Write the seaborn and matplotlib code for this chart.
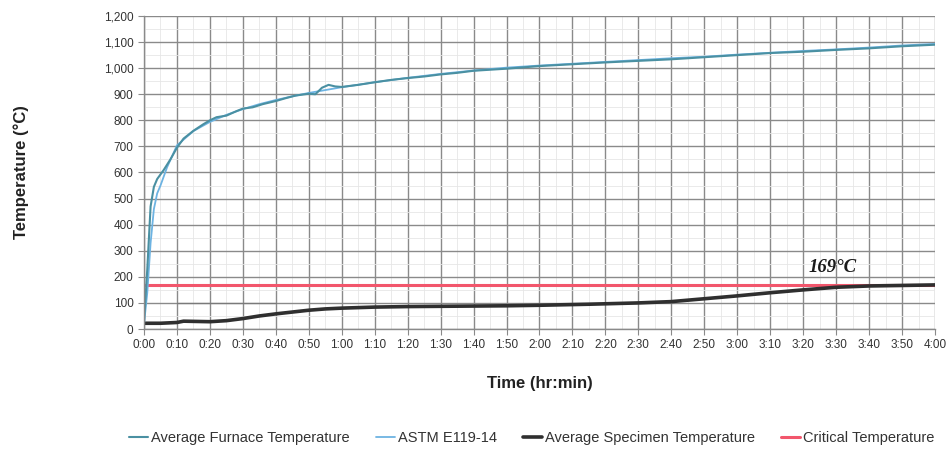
import matplotlib
matplotlib.use("Agg")
import matplotlib.pyplot as plt
from matplotlib.ticker import MultipleLocator, FuncFormatter
import seaborn as sns
import pandas as pd

# ---- data (time in minutes, temperature in °C) ----
furnace_t = [0, 1, 2, 3, 4, 6, 8, 10, 12, 15, 18, 20, 22, 25, 28, 30, 33, 36, 40,
             43, 46, 50, 52, 54, 56, 58, 60, 65, 70, 75, 80, 85, 90, 95, 100, 105, 110,
             115, 120, 130, 140, 150, 160, 170, 180, 190, 200, 210, 220, 230, 240]
furnace_T = [25, 230, 470, 545, 575, 610, 650, 695, 730, 760, 785, 800, 812, 818, 835,
             845, 850, 862, 874, 885, 895, 902, 900, 925, 936, 930, 928, 936, 946, 955,
             962, 968, 976, 982, 990, 994, 998, 1003, 1008, 1015, 1022, 1028, 1034, 1042,
             1050, 1058, 1063, 1070, 1076, 1084, 1090]

astm_t = [0, 1, 2, 3, 4, 5, 7, 10, 15, 20, 25, 30, 35, 40, 45, 50, 55, 60, 70, 80,
          90, 100, 110, 120, 130, 140, 150, 160, 170, 180, 190, 200, 210, 220, 230, 240]
astm_T = [20, 140, 330, 460, 520, 550, 620, 704, 759, 794, 821, 843, 862, 878, 892,
          905, 916, 927, 946, 963, 978, 991, 1002, 1010, 1017, 1024, 1031, 1038, 1044,
          1052, 1059, 1066, 1072, 1079, 1087, 1093]

spec_t = [0, 5, 10, 12, 20, 25, 30, 35, 40, 45, 50, 55, 60, 70, 80, 90, 100, 110,
          120, 135, 150, 160, 170, 180, 190, 200, 210, 220, 230, 240]
spec_T = [22, 22, 25, 30, 28, 32, 40, 50, 58, 65, 72, 77, 80, 84, 86, 87, 88, 89,
          91, 95, 100, 105, 116, 127, 139, 150, 160, 165, 167, 169]

crit_t = [0, 240]
crit_T = [169, 169]

aux_t = [10, 40]
aux_T = [100, 100]

crit_label = "169°C"
crit_label_pos = (209, 234)

x_ticks = list(range(0, 241, 10))
x_labels = [f"{m // 60}:{m % 60:02d}" for m in x_ticks]

# ---- plotting ----
sns.set_style("white")
plt.rcParams["font.family"] = ["Liberation Sans", "DejaVu Sans"]

fig = plt.figure(figsize=(9.53, 4.5), dpi=100)
ax = fig.add_axes([144 / 953, 1 - 329 / 450, (935 - 144) / 953, (329 - 16) / 450])

# grid
ax.xaxis.set_major_locator(MultipleLocator(10))
ax.xaxis.set_minor_locator(MultipleLocator(5))
ax.yaxis.set_major_locator(MultipleLocator(100))
ax.yaxis.set_minor_locator(MultipleLocator(50))
ax.grid(which="major", color="#8a8a8a", lw=1.0)
ax.grid(which="minor", color="#e6e6e6", lw=0.6)
ax.set_axisbelow(True)

df_f = pd.DataFrame({"t": furnace_t, "T": furnace_T})
df_a = pd.DataFrame({"t": astm_t, "T": astm_T})
df_s = pd.DataFrame({"t": spec_t, "T": spec_T})
df_c = pd.DataFrame({"t": crit_t, "T": crit_T})
df_x = pd.DataFrame({"t": aux_t, "T": aux_T})

sns.lineplot(data=df_x, x="t", y="T", ax=ax, color="#7a7a7a", lw=0.9, legend=False)
sns.lineplot(data=df_c, x="t", y="T", ax=ax, color="#f2566c", lw=2.2,
             label="Critical Temperature")
sns.lineplot(data=df_s, x="t", y="T", ax=ax, color="#2f2f2f", lw=2.6,
             label="Average Specimen Temperature")
sns.lineplot(data=df_a, x="t", y="T", ax=ax, color="#6db3e2", lw=1.3,
             label="ASTM E119-14")
sns.lineplot(data=df_f, x="t", y="T", ax=ax, color="#4a90a2", lw=1.5,
             label="Average Furnace Temperature")

ax.text(crit_label_pos[0], crit_label_pos[1], crit_label, ha="center", va="center",
        fontsize=13.5, fontweight="bold", fontstyle="italic",
        family=["Liberation Serif", "DejaVu Serif"], color="#1a1a1a")

ax.set_xlim(0, 240)
ax.set_ylim(0, 1200)
ax.set_xticks(x_ticks)
ax.set_xticklabels(x_labels)
ax.yaxis.set_major_formatter(FuncFormatter(lambda v, p: f"{int(v):,}"))
ax.tick_params(axis="both", which="major", labelsize=8.5, labelcolor="#333333",
               length=4, color="#8a8a8a", direction="out", bottom=True, left=True)
ax.tick_params(axis="both", which="minor", length=0)

for side in ["top", "right"]:
    ax.spines[side].set_visible(False)
for side in ["left", "bottom"]:
    ax.spines[side].set_color("#8a8a8a")
    ax.spines[side].set_linewidth(1.0)

ax.set_xlabel("Time (hr:min)", fontsize=12, fontweight="bold", color="#222222",
              labelpad=18)
ax.set_ylabel("Temperature (°C)", fontsize=12, fontweight="bold", color="#222222")
ax.yaxis.set_label_coords(-0.145, 0.5)

handles, labels = ax.get_legend_handles_labels()
order = ["Average Furnace Temperature", "ASTM E119-14",
         "Average Specimen Temperature", "Critical Temperature"]
hmap = dict(zip(labels, handles))
if ax.legend_:
    ax.legend_.remove()
fig.legend([hmap[l] for l in order], order, loc="center", ncol=4,
           bbox_to_anchor=(0.558, 1 - 438 / 450), frameon=False, fontsize=10.5,
           handlelength=1.3, handletextpad=0.2, columnspacing=1.8,
           labelcolor="#333333")

fig.savefig("out.png", dpi=100)
